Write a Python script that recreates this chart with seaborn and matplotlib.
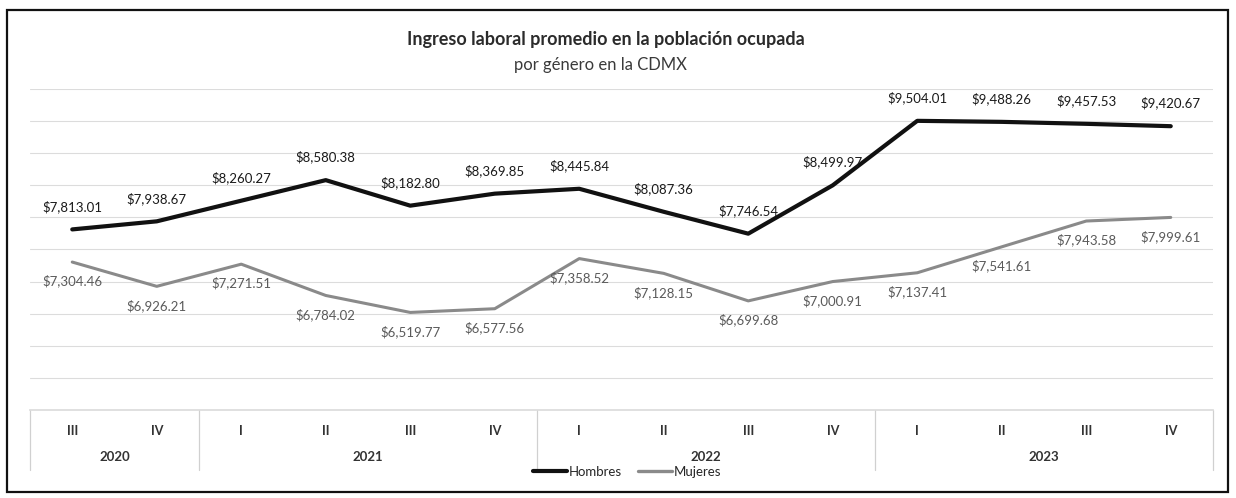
import matplotlib.pyplot as plt
import matplotlib.transforms as mtransforms
import numpy as np
import pandas as pd
import seaborn as sns
from matplotlib.patches import Rectangle

quarters = ["III", "IV", "I", "II", "III", "IV", "I", "II", "III", "IV", "I", "II", "III", "IV"]
years = ["2020", "2020", "2021", "2021", "2021", "2021", "2022", "2022", "2022", "2022",
         "2023", "2023", "2023", "2023"]
hombres = [7813.01, 7938.67, 8260.27, 8580.38, 8182.80, 8369.85, 8445.84,
           8087.36, 7746.54, 8499.97, 9504.01, 9488.26, 9457.53, 9420.67]
mujeres = [7304.46, 6926.21, 7271.51, 6784.02, 6519.77, 6577.56, 7358.52,
           7128.15, 6699.68, 7000.91, 7137.41, 7541.61, 7943.58, 7999.61]
series_names = ["Hombres", "Mujeres"]
colors = {"Hombres": "#111111", "Mujeres": "#8a8a8a"}
label_colors = {"Hombres": "#1a1a1a", "Mujeres": "#5a5a5a"}

W, H = 1236, 498


def main():
    sns.set_theme(style="white")
    plt.rcParams["font.family"] = ["Lato", "DejaVu Sans"]

    pos = np.arange(len(quarters))
    df = pd.DataFrame({
        "pos": np.concatenate([pos, pos]),
        "valor": hombres + mujeres,
        "genero": np.repeat(series_names, len(quarters)),
    })

    fig = plt.figure(figsize=(W / 100, H / 100), dpi=100)
    fig.patch.set_facecolor("white")
    ax = fig.add_axes([30 / W, 1 - 410 / H, 1183 / W, 321 / H])

    sns.lineplot(data=df, x="pos", y="valor", hue="genero", palette=colors,
                 linewidth=2.6, ax=ax, legend=False)
    ax.lines[0].set_linewidth(3.0)
    ax.lines[1].set_linewidth(2.2)

    ax.set_xlim(-0.5, len(quarters) - 0.5)
    ax.set_ylim(5000, 10000)
    ax.set_yticks(np.arange(5000, 10001, 500))
    ax.yaxis.grid(True, color="#dcdcdc", linewidth=0.8)
    ax.tick_params(axis="y", left=False, labelleft=False)
    for s in ["top", "right", "left"]:
        ax.spines[s].set_visible(False)
    ax.spines["bottom"].set_color("#dcdcdc")
    ax.set_xlabel("")
    ax.set_ylabel("")

    # data labels
    for name, vals, dy, va in [("Hombres", hombres, 12, "bottom"), ("Mujeres", mujeres, -9, "top")]:
        for x, v in zip(pos, vals):
            ax.annotate(f"${v:,.2f}", (x, v), xytext=(0, dy), textcoords="offset points",
                        ha="center", va=va, fontsize=9.5, color=label_colors[name])

    # multi-level category axis
    ax.set_xticks(pos)
    ax.set_xticklabels(quarters, fontsize=9, fontweight="bold", color="#333333")
    ax.tick_params(axis="x", length=0, pad=11)
    trans = mtransforms.blended_transform_factory(ax.transData, ax.transAxes)
    yr = pd.Series(years)
    groups = yr.groupby(yr, sort=False).apply(lambda s: (s.index.min(), s.index.max()))
    bounds = [-0.5]
    for year, (i0, i1) in groups.items():
        ax.text((i0 + i1) / 2, -47 / 321, year, transform=trans, ha="center", va="center",
                fontsize=9.5, fontweight="bold", color="#333333")
        bounds.append(i1 + 0.5)
    for b in bounds:
        ax.plot([b, b], [0, -60 / 321], transform=trans, color="#d0d0d0",
                linewidth=0.9, clip_on=False)

    # legend
    handles = [plt.Line2D([], [], color=colors[n], linewidth=3.0 if n == "Hombres" else 2.4)
               for n in series_names]
    fig.legend(handles, series_names, loc="center", bbox_to_anchor=(627 / W, 1 - 472 / H),
               ncol=2, frameon=False, fontsize=9.5, handlelength=2.6, handletextpad=0.1,
               columnspacing=1.2)

    # titles
    fig.text(606 / W, 1 - 40 / H, "Ingreso laboral promedio en la población ocupada",
             ha="center", va="center", fontsize=13, fontweight="bold", color="#2b2b2b")
    fig.text(600 / W, 1 - 65 / H, "por género en la CDMX", ha="center", va="center",
             fontsize=12, color="#3a3a3a")

    # chart frame
    fig.patches.append(Rectangle((7 / W, 1 - 492 / H), 1221 / W, 482 / H,
                                 transform=fig.transFigure, fill=False,
                                 edgecolor="#111111", linewidth=1.6))

    fig.savefig("out.png", dpi=100)


if __name__ == "__main__":
    main()
